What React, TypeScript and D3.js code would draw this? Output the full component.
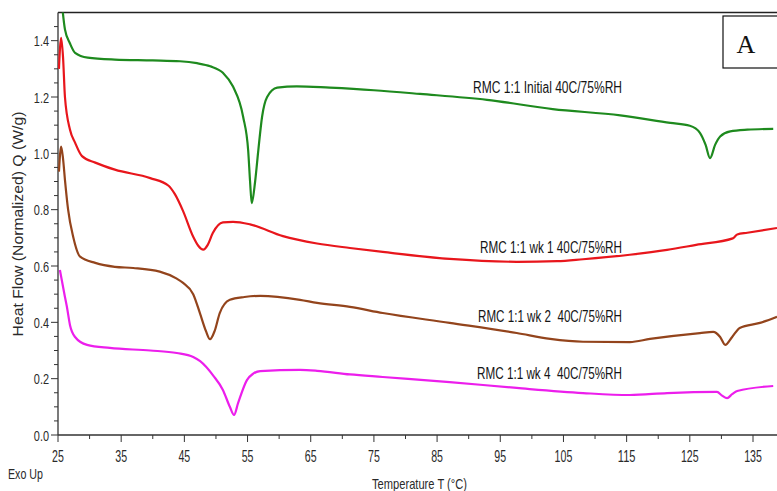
import React from "react";
import * as d3 from "d3";

// DSC thermograms, RMC 1:1 stored at 40C/75%RH
const initialTemp = [25.5, 26.1, 26.9, 27.7, 29.7, 34, 40, 44.3, 47, 49.1, 51.1, 52.7, 54.3, 55.1, 55.4, 55.66, 56.2, 56.7, 57.3, 58.1, 59.7, 62.8, 68, 75, 82.3, 92.9, 103.3, 114, 121.9, 125, 126.6, 127.5, 128.2, 129, 129.8, 131.4, 134.1, 138.2];
const initialFlow = [1.56, 1.44, 1.39, 1.357, 1.34, 1.333, 1.33, 1.327, 1.32, 1.309, 1.286, 1.237, 1.13, 1.01, 0.9, 0.823, 0.9, 1.01, 1.13, 1.2, 1.233, 1.238, 1.233, 1.224, 1.211, 1.19, 1.157, 1.135, 1.108, 1.098, 1.073, 1.03, 0.983, 1.03, 1.06, 1.078, 1.084, 1.087];

const wk1Temp = [25.15, 25.5, 25.8, 26.1, 26.9, 27.7, 28.8, 30.9, 34, 39.6, 42.5, 43.5, 44.8, 46.4, 47.2, 48.0, 48.7, 49.5, 51.1, 52.7, 55.4, 60.6, 66, 71.2, 76.4, 87, 97.6, 104, 108.1, 115.5, 121.4, 126, 131.8, 132.5, 134.1, 138.8];
const wk1Flow = [1.3, 1.41, 1.34, 1.2, 1.084, 1.038, 0.99, 0.967, 0.942, 0.912, 0.885, 0.855, 0.795, 0.704, 0.672, 0.658, 0.675, 0.717, 0.755, 0.757, 0.748, 0.706, 0.68, 0.664, 0.65, 0.625, 0.615, 0.617, 0.624, 0.64, 0.657, 0.675, 0.698, 0.712, 0.718, 0.735];

const wk2Temp = [25.15, 25.5, 25.8, 26.1, 26.6, 27.4, 28.5, 30.9, 34, 36.9, 41.1, 43.8, 44.8, 46.4, 47.5, 48.4, 49.06, 49.8, 50.6, 52.2, 54.5, 57, 63.3, 66, 71.2, 76.4, 87, 97.6, 102.9, 108.1, 115.5, 118.7, 126.6, 128.7, 129.8, 130.6, 131.7, 132.9, 136.1, 138.8];
const wk2Flow = [0.935, 1.024, 0.98, 0.906, 0.8, 0.704, 0.633, 0.611, 0.597, 0.593, 0.58, 0.555, 0.54, 0.5, 0.43, 0.37, 0.34, 0.37, 0.433, 0.48, 0.49, 0.494, 0.48, 0.469, 0.455, 0.433, 0.398, 0.362, 0.341, 0.331, 0.33, 0.341, 0.362, 0.366, 0.348, 0.32, 0.348, 0.38, 0.398, 0.42];

const wk4Temp = [25.3, 26.1, 26.4, 26.9, 27.7, 29.6, 33.2, 39.6, 43.8, 46.4, 47.5, 49.6, 51.1, 52.2, 52.86, 53.5, 54.9, 55.9, 57, 63.3, 66, 71.2, 76.4, 87, 97.6, 108.1, 115.5, 121.4, 129.3, 130.1, 130.9, 131.7, 132.5, 138.2];
const wk4Flow = [0.586, 0.49, 0.456, 0.39, 0.348, 0.32, 0.309, 0.3, 0.291, 0.277, 0.262, 0.21, 0.16, 0.1, 0.071, 0.113, 0.195, 0.218, 0.227, 0.231, 0.228, 0.215, 0.206, 0.188, 0.167, 0.149, 0.142, 0.149, 0.153, 0.14, 0.131, 0.145, 0.156, 0.174];

const seriesNames = [
  "RMC 1:1 Initial 40C/75%RH",
  "RMC 1:1 wk 1 40C/75%RH",
  "RMC 1:1 wk 2  40C/75%RH",
  "RMC 1:1 wk 4  40C/75%RH",
];
const seriesColors = ["#1e8a1e", "#e8161c", "#93441c", "#ec1eec"];

const xTicks = [25, 35, 45, 55, 65, 75, 85, 95, 105, 115, 125, 135];
const yTicks = [0, 0.2, 0.4, 0.6, 0.8, 1.0, 1.2, 1.4];

const W = 777;
const H = 491;
const left = 58;
const top = 12.5;
const bottom = 435;

const FONT = "'Liberation Sans Narrow', 'Arial Narrow', 'Liberation Sans', Arial, sans-serif";

export default function App() {
  const x = d3.scaleLinear().domain([25, 135]).range([left, 753]);
  const y = d3.scaleLinear().domain([0, 1.5]).range([bottom, top]);

  const line = d3
    .line<[number, number]>()
    .x((d) => x(d[0]))
    .y((d) => y(d[1]))
    .curve(d3.curveMonotoneX);

  const series = [
    { t: initialTemp, v: initialFlow },
    { t: wk1Temp, v: wk1Flow },
    { t: wk2Temp, v: wk2Flow },
    { t: wk4Temp, v: wk4Flow },
  ];

  // label anchor: [left x, baseline, width]
  const labelPos = [
    [473, 93, 149],
    [480, 253, 142],
    [478, 321.5, 144],
    [477, 379, 145],
  ];

  const xMinor = d3.range(30, 140, 10);
  const yMinor = d3.range(0.05, 1.5, 0.05).filter((v) => Math.abs(Math.round(v * 5) - v * 5) > 1e-6);

  const digitW = (s: string) => {
    let w = 0;
    for (const c of s) w += c === "." ? 3.4 : 5.9;
    return w;
  };

  return (
    <svg
      width={W}
      height={H}
      style={{ position: "absolute", left: 0, top: 0, background: "#fff", overflow: "hidden" }}
    >
      <defs>
        <clipPath id="plot">
          <rect x={left} y={top} width={W - left} height={bottom - top} />
        </clipPath>
      </defs>

      {/* frame */}
      <line x1={left} x2={W} y1={top} y2={top} stroke="#222" strokeWidth={1.5} />
      <line x1={left} x2={left} y1={top} y2={bottom} stroke="#333" strokeWidth={1.3} />
      <line x1={left} x2={W} y1={bottom} y2={bottom} stroke="#333" strokeWidth={1.3} />

      {/* x ticks */}
      {xTicks.map((t) => (
        <g key={"xt" + t}>
          <line x1={x(t)} x2={x(t)} y1={bottom} y2={bottom + 7} stroke="#333" strokeWidth={1} />
          <text
            x={x(t) - digitW(String(t)) / 2}
            y={462}
            fontFamily={FONT}
            fontSize={16}
            fill="#2a2a2a"
            textLength={digitW(String(t))}
            lengthAdjust="spacingAndGlyphs"
          >
            {t}
          </text>
        </g>
      ))}
      {xMinor.map((t) => (
        <line key={"xm" + t} x1={x(t)} x2={x(t)} y1={bottom} y2={bottom + 4} stroke="#333" strokeWidth={1} />
      ))}

      {/* y ticks */}
      {yTicks.map((v) => {
        const s = v.toFixed(1);
        const w = digitW(s);
        return (
          <g key={"yt" + v}>
            <line x1={left - 7} x2={left} y1={y(v)} y2={y(v)} stroke="#333" strokeWidth={1} />
            <text
              x={49 - w}
              y={y(v) + 5.5}
              fontFamily={FONT}
              fontSize={15}
              fill="#2a2a2a"
              textLength={w}
              lengthAdjust="spacingAndGlyphs"
            >
              {s}
            </text>
          </g>
        );
      })}
      {yMinor.map((v) => (
        <line key={"ym" + v} x1={left - 4} x2={left} y1={y(v)} y2={y(v)} stroke="#333" strokeWidth={1} />
      ))}

      {/* thermograms */}
      <g clipPath="url(#plot)">
        {series.map((s, i) => (
          <path
            key={"s" + i}
            d={line(s.t.map((t, k) => [t, s.v[k]] as [number, number])) || ""}
            fill="none"
            stroke={seriesColors[i]}
            strokeWidth={2.2}
            strokeLinejoin="round"
          />
        ))}
      </g>

      {/* series labels */}
      {seriesNames.map((n, i) => (
        <text
          key={"lab" + i}
          x={labelPos[i][0]}
          y={labelPos[i][1]}
          fontFamily={FONT}
          fontSize={16}
          fill="#151515"
          textLength={labelPos[i][2]}
          lengthAdjust="spacingAndGlyphs"
          style={{ whiteSpace: "pre" }}
        >
          {n}
        </text>
      ))}

      {/* panel letter */}
      <rect x={723} y={16} width={70} height={52} fill="#fff" stroke="#111" strokeWidth={1.2} />
      <text x={746} y={53} textAnchor="middle" fontFamily="'Liberation Serif', 'Times New Roman', serif" fontSize={26} fill="#111">
        A
      </text>

      {/* axis titles */}
      <text
        transform="translate(23,224) rotate(-90)"
        x={-112.5}
        y={0}
        fontFamily={FONT}
        fontSize={14}
        fill="#2a2a2a"
        textLength={225}
        lengthAdjust="spacingAndGlyphs"
      >
        Heat Flow (Normalized) Q (W/g)
      </text>
      <text x={372} y={489} fontFamily={FONT} fontSize={15} fill="#2a2a2a" textLength={95} lengthAdjust="spacingAndGlyphs">
        Temperature T (°C)
      </text>
      <text x={8} y={479} fontFamily={FONT} fontSize={14} fill="#2a2a2a" textLength={35} lengthAdjust="spacingAndGlyphs">
        Exo Up
      </text>
    </svg>
  );
}
